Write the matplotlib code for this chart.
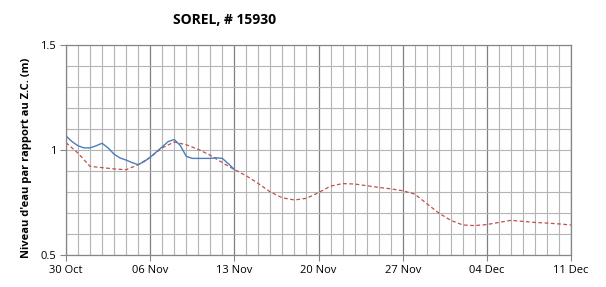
import matplotlib
matplotlib.use("Agg")
import matplotlib.pyplot as plt
import matplotlib.dates as mdates
import numpy as np
from datetime import datetime, timedelta

title = "SOREL, # 15930"
ylabel = "Niveau d'eau par rapport au Z.C. (m)"
start_date = "2013-10-30"
end_date = "2013-12-11"
x_tick_labels = ["30 Oct", "06 Nov", "13 Nov", "20 Nov", "27 Nov", "04 Dec", "11 Dec"]

# observed (blue), days since 30 Oct
obs_days = [0.0, 0.5, 1.0, 1.5, 2.0, 2.5, 3.0, 3.5, 4.0, 4.5, 5.0, 5.5, 6.0, 6.5,
            7.0, 7.5, 8.0, 8.5, 9.0, 9.5, 10.0, 10.5, 11.0, 11.5, 12.0, 12.5, 13.0,
            13.5, 14.0]
obs_vals = [1.067, 1.040, 1.020, 1.010, 1.010, 1.020, 1.032, 1.010, 0.980, 0.962,
            0.952, 0.940, 0.930, 0.945, 0.965, 0.990, 1.015, 1.040, 1.050, 1.022,
            0.970, 0.960, 0.960, 0.960, 0.960, 0.963, 0.960, 0.935, 0.907]

# predicted (red dashed), days since 30 Oct
pred_days = list(range(0, 43))
pred_vals = [1.035, 0.985, 0.922, 0.916, 0.910, 0.906, 0.930, 0.965, 1.010, 1.038,
             1.025, 1.003, 0.975, 0.940, 0.907, 0.877, 0.840, 0.800, 0.772, 0.762,
             0.770, 0.797, 0.828, 0.840, 0.838, 0.830, 0.822, 0.815, 0.806, 0.790,
             0.745, 0.700, 0.665, 0.643, 0.640, 0.645, 0.655, 0.665, 0.660, 0.655,
             0.652, 0.648, 0.643]

y_ticks = [0.5, 1.0, 1.5]
y_ticklabels = ["0.5", "1", "1.5"]

t0 = datetime.fromisoformat(start_date)
t1 = datetime.fromisoformat(end_date)
obs_t = [t0 + timedelta(days=d) for d in obs_days]
pred_t = [t0 + timedelta(days=d) for d in pred_days]
x_ticks = [t0 + timedelta(days=7 * i) for i in range(len(x_tick_labels))]

fig = plt.figure(figsize=(6.06, 2.87), dpi=100)
ax = fig.add_axes([66/606, 1-255/287, 505/606, 210/287])

ax.set_xlim(t0, t1)
ax.set_ylim(0.5, 1.5)

ax.set_xticks(x_ticks)
ax.set_xticklabels(x_tick_labels)
ax.xaxis.set_minor_locator(mdates.DayLocator())
ax.set_yticks(y_ticks)
ax.set_yticklabels(y_ticklabels)
ax.set_yticks(np.arange(0.5, 1.5001, 0.1), minor=True)

ax.grid(which="minor", axis="both", color="#b4b4b4", linewidth=0.8)
ax.grid(which="major", axis="x", color="#808080", linewidth=0.9)
ax.grid(which="major", axis="y", color="#b4b4b4", linewidth=0.8)
ax.set_axisbelow(True)

for s in ax.spines.values():
    s.set_color("#868686")
    s.set_linewidth(0.9)

ax.tick_params(which="major", length=4, color="#868686", labelsize=8, pad=3)
ax.tick_params(which="minor", length=0)

ax.plot(pred_t, pred_vals, color="#c0504d", linestyle=(0, (3, 2)), linewidth=0.9)
ax.plot(obs_t, obs_vals, color="#4a7ebb", linewidth=1.0)

fig.text(225/606, 1-20/287, title, ha="center", va="center", fontsize=10,
         fontweight="bold", family="Open Sans")
fig.text(27/606, 1-158/287, ylabel, ha="center", va="center", rotation=90,
         fontsize=8, fontweight="bold", family="Open Sans")

for lab in ax.get_xticklabels() + ax.get_yticklabels():
    lab.set_family("Open Sans")

fig.savefig("out.png", dpi=100)
